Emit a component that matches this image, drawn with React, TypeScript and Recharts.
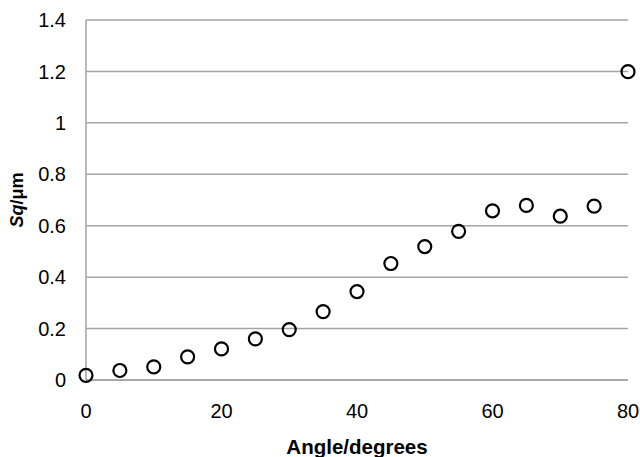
import React from 'react'
import { ScatterChart, Scatter, XAxis, YAxis, CartesianGrid, Label } from 'recharts'

const angles = [0, 5, 10, 15, 20, 25, 30, 35, 40, 45, 50, 55, 60, 65, 70, 75, 80]
const sqValues = [0.018, 0.037, 0.051, 0.09, 0.121, 0.16, 0.196, 0.266, 0.344, 0.453, 0.519, 0.578, 0.658, 0.679, 0.637, 0.676, 1.199]
const xTicks = [0, 20, 40, 60, 80]
const yTicks = [0, 0.2, 0.4, 0.6, 0.8, 1, 1.2, 1.4]

const data = angles.map((a, i) => ({ angle: a, sq: sqValues[i] }))

const FONT = '"Liberation Sans", Arial, sans-serif'
const GRID = '#a3a3a3'

const OpenCircle = (props: any) => {
  const { cx, cy } = props
  return <circle cx={cx} cy={cy} r={6.5} fill="none" stroke="#000" strokeWidth={2.2} />
}

const YTitle = (props: any) => {
  const vb = props.viewBox
  const x = 17
  const y = vb.y + vb.height / 2
  return (
    <text
      x={x}
      y={y}
      transform={`rotate(-90, ${x}, ${y})`}
      textAnchor="middle"
      dominantBaseline="central"
      fontFamily={FONT}
      fontSize={18}
      fontWeight="bold"
      fill="#000"
    >
      <tspan fontStyle="italic">Sq</tspan>
      <tspan>/μm</tspan>
    </text>
  )
}

export default function App() {
  return (
    <div style={{ position: 'absolute', left: 0, top: 0, width: 640, height: 457, background: '#fff' }}>
      <ScatterChart width={640} height={457} margin={{ top: 20, right: 12, left: 0, bottom: 0 }}>
        <CartesianGrid vertical={false} stroke={GRID} strokeWidth={1.5} />
        <XAxis
          type="number"
          dataKey="angle"
          domain={[0, 80]}
          ticks={xTicks}
          height={77}
          tickLine={false}
          tickSize={6}
          tickMargin={18}
          axisLine={{ stroke: GRID, strokeWidth: 1.5 }}
          tick={{ fill: '#000', fontSize: 20, fontFamily: FONT }}
        >
          <Label
            value="Angle/degrees"
            position="insideBottom"
            offset={3}
            style={{ fontFamily: FONT, fontSize: 20.5, fontWeight: 'bold', fill: '#000' }}
          />
        </XAxis>
        <YAxis
          type="number"
          dataKey="sq"
          domain={[0, 1.4]}
          ticks={yTicks}
          width={86}
          tickLine={false}
          tickSize={6}
          tickMargin={14}
          axisLine={{ stroke: GRID, strokeWidth: 1.5 }}
          tick={{ fill: '#000', fontSize: 20, fontFamily: FONT }}
        >
          <Label content={YTitle} />
        </YAxis>
        <Scatter data={data} shape={OpenCircle} isAnimationActive={false} />
      </ScatterChart>
    </div>
  )
}
